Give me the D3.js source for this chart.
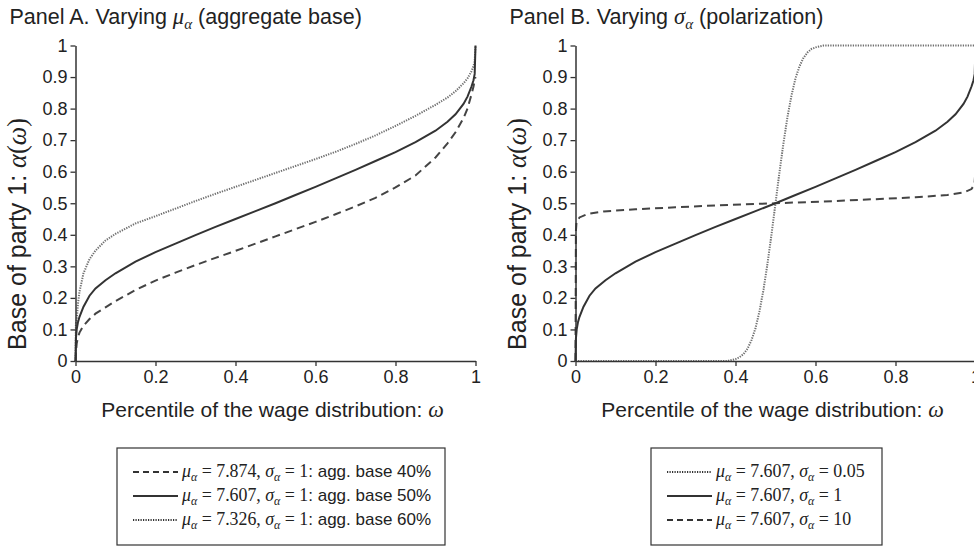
<!DOCTYPE html>
<html>
<head>
<meta charset="utf-8">
<script src="https://cdn.jsdelivr.net/npm/d3@7"></script>
<style>
  body { margin: 0; background: #fff; }
  svg { display: block; }
  text { font-family: "Liberation Sans", Arial, Helvetica, sans-serif; fill: #222; }
</style>
</head>
<body>
<svg id="chart" width="974" height="547"></svg>
<script>
// percentile grid shared by the three curves of panel A
const omegaA = [0, 0.001, 0.003, 0.006, 0.01, 0.02, 0.035, 0.05, 0.075, 0.1, 0.15, 0.2, 0.25, 0.3, 0.35,
  0.4, 0.45, 0.5, 0.55, 0.6, 0.65, 0.7, 0.75, 0.8, 0.85, 0.9, 0.93, 0.95, 0.97, 0.98, 0.99, 0.995, 0.998, 1];
// mu = 7.607, sigma = 1 (agg. base 50%), same curve is the solid one in panel B
const alphaBase50 = [0, 0.07, 0.1, 0.122, 0.14, 0.172, 0.207, 0.23, 0.256, 0.278, 0.315, 0.345, 0.372, 0.399, 0.425,
  0.45, 0.475, 0.5, 0.526, 0.552, 0.579, 0.606, 0.634, 0.662, 0.694, 0.73, 0.758, 0.782, 0.815, 0.838, 0.87, 0.89, 0.91, 1];
// mu = 7.874 (agg. base 40%)
const alphaBase40 = [0, 0.025, 0.055, 0.075, 0.09, 0.112, 0.133, 0.15, 0.17, 0.19, 0.225, 0.255, 0.28, 0.304, 0.327,
  0.349, 0.372, 0.395, 0.418, 0.441, 0.465, 0.49, 0.517, 0.55, 0.588, 0.645, 0.69, 0.725, 0.77, 0.8, 0.845, 0.87, 0.89, 0.9];
// mu = 7.326 (agg. base 60%)
const alphaBase60 = [0, 0.12, 0.13, 0.18, 0.22, 0.278, 0.323, 0.35, 0.382, 0.403, 0.436, 0.459, 0.483, 0.507, 0.53,
  0.552, 0.574, 0.596, 0.618, 0.64, 0.663, 0.688, 0.715, 0.745, 0.777, 0.812, 0.835, 0.855, 0.88, 0.896, 0.918, 0.935, 0.95, 1];

// panel B: sigma = 0.05
const omegaNarrow = [0, 0.38, 0.4, 0.41, 0.42, 0.43, 0.44, 0.45, 0.46, 0.47, 0.48, 0.49, 0.5,
  0.51, 0.52, 0.53, 0.54, 0.55, 0.56, 0.57, 0.58, 0.59, 0.6, 0.62, 1];
const alphaNarrow = [0, 0, 0.006, 0.012, 0.022, 0.039, 0.066, 0.104, 0.158, 0.226, 0.309, 0.401, 0.5,
  0.599, 0.691, 0.774, 0.842, 0.896, 0.934, 0.961, 0.978, 0.989, 0.994, 1, 1];
// panel B: sigma = 10
const omegaWide = [0, 0.001, 0.0025, 0.01, 0.03, 0.07, 0.15, 0.25, 0.35, 0.5, 0.65, 0.75, 0.85, 0.93, 0.97, 0.99, 0.9975, 0.999, 1];
const alphaWide = [0, 0.41, 0.44, 0.455, 0.466, 0.474, 0.481, 0.487, 0.493, 0.5, 0.507, 0.513, 0.519, 0.526, 0.534, 0.545, 0.56, 0.59, 1];

const xTicks = [0, 0.2, 0.4, 0.6, 0.8, 1];
const yTicks = [0, 0.1, 0.2, 0.3, 0.4, 0.5, 0.6, 0.7, 0.8, 0.9, 1];

const muA = ['7.874', '7.607', '7.326'];
const aggBase = ['40%', '50%', '60%'];
const sigmaB = ['0.05', '1', '10'];

const SANS = '"Liberation Sans", Arial, Helvetica, sans-serif';
const SERIF = '"Liberation Serif", "Times New Roman", serif';

const lineStyle = {
  solid: { stroke: '#333', width: 2, dash: null },
  dashed: { stroke: '#444', width: 2, dash: '8,5' },
  dotted: { stroke: '#707070', width: 2, dash: '1.3,1.2' }
};

const svg = d3.select('#chart');

const y = d3.scaleLinear().domain([0, 1]).range([361, 45.5]);

// write a run of text pieces: [string, kind] where kind is sans / serif / ital / sub
function richText(sel, parts, size) {
  let shifted = false;
  parts.forEach(function (p) {
    const t = sel.append('tspan').text(p[0]);
    if (p[1] === 'sans') {
      t.style('font-family', SANS);
    } else {
      t.style('font-family', SERIF);
      if (p[1] !== 'serif') t.style('font-style', 'italic');
    }
    if (p[1] === 'sub') {
      t.attr('font-size', size * 0.7).attr('dy', size * 0.22);
      shifted = true;
    } else {
      t.attr('font-size', p[1] === 'sans' ? size : size * 1.05);
      if (shifted) { t.attr('dy', -size * 0.22); shifted = false; }
    }
  });
}

function drawPanel(left, titleParts, curves, legendRows, box) {
  const x = d3.scaleLinear().domain([0, 1]).range([left, left + 400]);
  const g = svg.append('g');

  // curves
  const line = d3.line().x(d => x(d[0])).y(d => y(d[1]));
  curves.forEach(function (c) {
    const st = lineStyle[c.style];
    g.append('path')
      .datum(d3.zip(c.omega, c.alpha))
      .attr('fill', 'none')
      .attr('stroke', st.stroke)
      .attr('stroke-width', st.width)
      .attr('stroke-dasharray', st.dash)
      .attr('d', line);
  });

  // axes
  const yAxis = g.append('g')
    .attr('transform', 'translate(' + left + ',0)')
    .call(d3.axisLeft(y).tickValues(yTicks).tickSize(5).tickSizeOuter(0).tickPadding(3).tickFormat(String));
  const xAxis = g.append('g')
    .attr('transform', 'translate(0,361)')
    .call(d3.axisBottom(x).tickValues(xTicks).tickSize(5).tickSizeOuter(0).tickPadding(4).tickFormat(String));
  [yAxis, xAxis].forEach(function (a) {
    a.select('.domain').attr('stroke', '#333').attr('stroke-width', 1.5);
    a.selectAll('.tick line').attr('stroke', '#333').attr('stroke-width', 1.3);
    a.selectAll('.tick text').attr('font-size', 18).attr('fill', '#222').style('font-family', SANS);
  });

  // title
  const title = svg.append('text').attr('x', left - 66).attr('y', 24);
  richText(title, titleParts, 21.5);

  // axis labels
  const xl = svg.append('text').attr('x', left + 197).attr('y', 417).attr('text-anchor', 'middle');
  richText(xl, [['Percentile of the wage distribution: ', 'sans'], ['ω', 'ital']], 21);

  const yl = svg.append('text').attr('text-anchor', 'middle')
    .attr('transform', 'translate(' + (left - 50) + ',234) rotate(-90)');
  richText(yl, [['Base of party 1: ', 'sans'], ['α', 'ital'], ['(', 'serif'], ['ω', 'ital'], [')', 'serif']], 25);

  // legend
  svg.append('rect')
    .attr('x', box.x).attr('y', 448).attr('width', box.w).attr('height', 97)
    .attr('fill', 'none').attr('stroke', '#333').attr('stroke-width', 1.2);
  legendRows.forEach(function (r, i) {
    const cy = 472 + i * 24;
    const st = lineStyle[r.style];
    svg.append('line')
      .attr('x1', box.x + 16).attr('x2', box.x + 61).attr('y1', cy).attr('y2', cy)
      .attr('stroke', '#333')
      .attr('stroke-width', st.width)
      .attr('stroke-dasharray', r.style === 'dotted' ? '1.2,1.3' : (r.style === 'dashed' ? '6,4' : null));
    const t = svg.append('text').attr('x', box.x + 65).attr('y', cy + 5);
    richText(t, r.parts, 17);
  });
}

drawPanel(75.5,
  [['Panel A. Varying ', 'sans'], ['μ', 'ital'], ['α', 'sub'], [' (aggregate base)', 'sans']],
  [
    { omega: omegaA, alpha: alphaBase40, style: 'dashed' },
    { omega: omegaA, alpha: alphaBase60, style: 'dotted' },
    { omega: omegaA, alpha: alphaBase50, style: 'solid' }
  ],
  ['dashed', 'solid', 'dotted'].map(function (s, i) {
    return {
      style: s,
      parts: [['μ', 'ital'], ['α', 'sub'], [' = ' + muA[i] + ', ', 'serif'], ['σ', 'ital'], ['α', 'sub'],
        [' = 1', 'serif'], [': agg. base ' + aggBase[i], 'sans']]
    };
  }),
  { x: 117, w: 328 });

drawPanel(575.5,
  [['Panel B. Varying ', 'sans'], ['σ', 'ital'], ['α', 'sub'], [' (polarization)', 'sans']],
  [
    { omega: omegaWide, alpha: alphaWide, style: 'dashed' },
    { omega: omegaNarrow, alpha: alphaNarrow, style: 'dotted' },
    { omega: omegaA, alpha: alphaBase50, style: 'solid' }
  ],
  ['dotted', 'solid', 'dashed'].map(function (s, i) {
    return {
      style: s,
      parts: [['μ', 'ital'], ['α', 'sub'], [' = 7.607, ', 'serif'], ['σ', 'ital'], ['α', 'sub'], [' = ' + sigmaB[i], 'serif']]
    };
  }),
  { x: 651, w: 231 });
</script>
</body>
</html>
